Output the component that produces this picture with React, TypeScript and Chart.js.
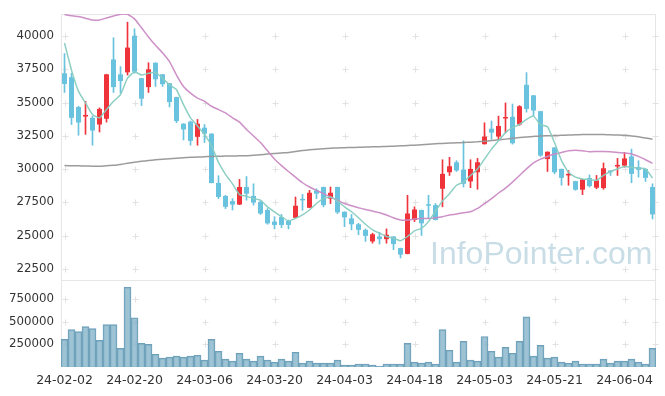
import React, { useEffect, useRef } from 'react';
import { Chart, registerables } from 'chart.js';
Chart.register(...registerables);

const dates = [
  '24-02-02','24-02-05','24-02-06','24-02-07','24-02-08','24-02-13','24-02-14','24-02-15','24-02-16','24-02-19',
  '24-02-20','24-02-21','24-02-22','24-02-23','24-02-26','24-02-27','24-02-28','24-02-29','24-03-04','24-03-05',
  '24-03-06','24-03-07','24-03-08','24-03-11','24-03-12','24-03-13','24-03-14','24-03-15','24-03-18','24-03-19',
  '24-03-20','24-03-21','24-03-22','24-03-25','24-03-26','24-03-27','24-03-28','24-03-29','24-04-01','24-04-02',
  '24-04-03','24-04-04','24-04-05','24-04-08','24-04-09','24-04-11','24-04-12','24-04-15','24-04-16','24-04-17',
  '24-04-18','24-04-19','24-04-22','24-04-23','24-04-24','24-04-25','24-04-26','24-04-29','24-04-30','24-05-02',
  '24-05-03','24-05-07','24-05-08','24-05-09','24-05-10','24-05-13','24-05-14','24-05-16','24-05-17','24-05-20',
  '24-05-21','24-05-22','24-05-23','24-05-24','24-05-27','24-05-28','24-05-29','24-05-30','24-05-31','24-06-03',
  '24-06-04','24-06-05','24-06-07','24-06-10','24-06-11'
];

const opens = [
  37200,36900,34660,33950,33850,33350,33780,38240,37120,37270,
  40020,36830,36160,37990,37120,36450,35410,33410,33560,32420,
  33110,32660,28950,27980,27590,27330,28650,27980,27530,26920,
  26050,26400,26100,26340,27750,27090,28400,28650,27780,28650,
  26790,26290,25850,25430,24560,24930,24730,24930,24060,23620,
  26170,26920,27290,27290,28520,29760,30510,29960,29070,29760,
  31870,33030,32440,33800,33930,33350,36330,35540,34350,30750,
  31620,30010,29520,29090,28450,29320,28600,28570,29890,30190,
  30260,30950,30140,30010,28650
];
const highs = [
  38680,37200,34720,35090,33980,34600,37130,39870,37700,41040,
  40540,36830,37990,37990,37120,36450,35410,33410,33610,33730,
  33350,32660,29500,28030,27780,29220,29440,28890,27590,27030,
  26420,26590,26170,27900,28100,28400,28520,28650,28650,28650,
  26790,26590,25920,25500,25180,25250,25500,24930,24060,28030,
  27160,26920,28030,27410,30700,30880,30630,32120,30700,30800,
  33480,33610,33980,34970,34890,34770,37250,35540,34350,31300,
  31620,30010,29890,29090,29220,29560,29520,30460,29890,30800,
  31250,31500,30630,30010,28890
];
const lows = [
  35760,33350,32540,32610,31790,32790,33530,35760,35710,37070,
  37200,34770,35760,36210,36210,34670,33480,32190,31790,31790,
  31990,28950,27780,27030,26920,27330,27660,27290,26590,25850,
  25500,25600,25500,26340,26900,27090,27780,27160,27410,26660,
  25670,25430,25060,24560,24430,24360,24430,23940,23320,23620,
  26050,25010,26290,26170,27160,29520,29820,28650,28600,28480,
  31870,32240,32240,32740,31870,33280,34280,33980,30950,29820,
  29640,28780,28780,28400,28080,28650,28520,28480,29520,29520,
  30140,28970,29390,29070,26250
];
const closes = [
  36400,33850,33500,34000,32900,34520,37120,36160,36620,39130,
  37320,35290,37500,36750,36380,35040,33610,32980,32120,33410,
  32660,28950,27900,27160,27330,28650,28150,27480,26660,25920,
  25800,25800,25800,27240,27650,28220,28150,27290,28220,26740,
  26370,25850,25430,24980,25100,24730,25060,24360,23570,26660,
  26960,25920,27240,26170,29640,30210,29890,28890,30010,30510,
  32440,32740,33240,33880,31940,34720,34520,34400,31010,31300,
  29760,29340,29620,28450,29220,28720,29150,30060,29760,30310,
  30800,29640,29940,29340,26590
];
const volumes = [
  304000,413000,391000,446000,424000,293000,467000,467000,206000,880000,
  543000,261000,250000,141000,98000,109000,120000,109000,120000,130000,
  76000,304000,174000,87000,65000,152000,87000,65000,120000,76000,
  54000,87000,65000,163000,43000,65000,43000,43000,43000,76000,
  22000,22000,33000,33000,22000,11000,33000,33000,33000,261000,
  54000,43000,54000,33000,413000,185000,54000,283000,76000,65000,
  337000,174000,109000,217000,152000,283000,554000,120000,239000,98000,
  109000,54000,43000,65000,33000,33000,33000,87000,43000,65000,
  65000,87000,54000,33000,206000
];
const maShort = [
  39480,37440,35840,34970,34100,33850,34470,35090,35600,36830,
  37320,37070,37200,37270,36830,36330,35960,34840,33850,33240,
  32610,31750,30500,29600,28890,28080,27960,27780,27660,27160,
  26790,26420,26100,26290,26550,26920,27410,27780,27900,27590,
  27160,26790,26340,25850,25430,25180,24930,24810,24610,24930,
  25360,25550,26050,26840,27600,28150,28780,29020,29520,30010,
  30750,31500,32120,32740,33110,33350,33730,33980,33350,33180,
  31990,30630,29760,29390,29260,29220,29150,29520,29820,30010,
  30190,30140,30060,30010,29320
];
const maMid = [
  41610,41530,41460,41340,41210,41210,41360,41510,41640,41640,
  41290,40620,39930,39300,38740,38070,37070,36210,35710,35340,
  35090,34720,34470,34225,33850,33530,32980,32490,31990,31370,
  30750,30260,29820,29390,28970,28650,28400,28150,27900,27660,
  27410,27240,27090,26960,26840,26720,26550,26340,26170,26170,
  26250,26290,26290,26340,26420,26550,26620,26720,26790,27040,
  27410,27780,28200,28570,29020,29520,30010,30460,30750,30950,
  31130,31250,31380,31420,31380,31300,31320,31320,31300,31250,
  31200,31130,30950,30700,30430
];
const maLong = [
  30260,30250,30240,30230,30220,30210,30250,30280,30350,30430,
  30510,30580,30640,30700,30740,30780,30820,30850,30880,30900,
  30930,30950,30960,30975,30985,30995,31005,31040,31080,31125,
  31170,31210,31250,31320,31390,31450,31490,31530,31570,31590,
  31610,31620,31640,31655,31670,31685,31700,31720,31745,31770,
  31795,31830,31865,31900,31930,31950,31970,31995,32020,32045,
  32090,32140,32195,32250,32310,32365,32410,32450,32490,32505,
  32520,32535,32555,32575,32590,32590,32590,32590,32575,32555,
  32535,32490,32420,32340,32240
];
const priceTicks = [22500, 25000, 27500, 30000, 32500, 35000, 37500, 40000];
const volumeTicks = [250000, 500000, 750000];
const labelEvery = 10;

const UP = 'rgb(238,52,58)';
const DOWN = 'rgb(105,194,222)';
const FONT = { family: 'DejaVu Sans', size: 11.8 };
const XFONT = { family: 'DejaVu Sans', size: 12.5 };

const crossGrid = {
  id: 'crossGrid',
  beforeDatasetsDraw(chart: any) {
    const { ctx, scales } = chart;
    const x = scales.x, y = scales.y, yv = scales.yv;
    ctx.save();
    ctx.lineWidth = 1;
    ctx.strokeStyle = '#e6e6e6';
    ctx.strokeRect(x.left + 0.5, y.top + 0.5, x.right - x.left - 1, y.bottom - y.top);
    ctx.strokeRect(x.left + 0.5, yv.top + 0.5, x.right - x.left - 1, yv.bottom - yv.top - 1);
    ctx.strokeStyle = '#e2e2e2';
    const xs: number[] = [];
    dates.forEach((_, i) => { if (i % labelEvery === 0) xs.push(Math.round(x.getPixelForValue(i)) + 0.5); });
    xs.push(x.right - 0.5);
    const ys: number[] = [];
    priceTicks.forEach(v => ys.push(Math.round(y.getPixelForValue(v)) + 0.5));
    volumeTicks.forEach(v => ys.push(Math.round(yv.getPixelForValue(v)) + 0.5));
    ctx.beginPath();
    for (const px of xs) {
      for (const py of ys) {
        ctx.moveTo(px - 3, py); ctx.lineTo(px + 3, py);
        ctx.moveTo(px, py - 3); ctx.lineTo(px, py + 3);
      }
    }
    ctx.stroke();
    ctx.restore();
  }
};

export default function App() {
  const ref = useRef<HTMLCanvasElement | null>(null);
  useEffect(() => {
    if (!ref.current) return;
    const colors = opens.map((o, i) => (closes[i] >= o ? UP : DOWN));
    const chart = new Chart(ref.current, {
      type: 'bar',
      data: {
        labels: dates,
        datasets: [
          { type: 'line', label: 'MA5', data: maShort, yAxisID: 'y', borderColor: 'rgba(135,204,192,0.95)', borderWidth: 1.5, pointRadius: 0, tension: 0.15, order: 0 } as any,
          { type: 'line', label: 'MA20', data: maMid, yAxisID: 'y', borderColor: 'rgba(202,138,196,0.95)', borderWidth: 1.5, pointRadius: 0, tension: 0.15, order: 0 } as any,
          { type: 'line', label: 'MA120', data: maLong, yAxisID: 'y', borderColor: 'rgba(150,150,150,0.95)', borderWidth: 1.5, pointRadius: 0, tension: 0.15, order: 0 } as any,
          { label: 'body', data: opens.map((o, i) => [o, closes[i]]), yAxisID: 'y', backgroundColor: colors, borderWidth: 0, barPercentage: 0.72, categoryPercentage: 1, grouped: false, minBarLength: 1.5, order: 1 } as any,
          { label: 'wick', data: lows.map((l, i) => [l, highs[i]]), yAxisID: 'y', backgroundColor: colors, borderWidth: 0, barThickness: 1, grouped: false, order: 2 } as any,
          { label: 'volume', data: volumes, yAxisID: 'yv', backgroundColor: 'rgba(130,178,200,0.78)', borderColor: 'rgba(95,150,178,0.9)', borderWidth: 1, barPercentage: 1, categoryPercentage: 1, grouped: false, order: 3 } as any,
        ],
      },
      options: {
        animation: false,
        responsive: false,
        maintainAspectRatio: false,
        layout: { padding: { left: 0, right: 9, top: 10, bottom: 0 } },
        plugins: { legend: { display: false }, tooltip: { enabled: false } },
        scales: {
          x: {
            type: 'category',
            offset: true,
            grid: { display: false, drawTicks: false },
            border: { display: false },
            ticks: {
              autoSkip: false, maxRotation: 0, minRotation: 0, padding: 6,
              color: '#333', font: XFONT,
              callback: (_v: any, i: number) => (i % labelEvery === 0 ? dates[i] : null),
            },
            afterFit: (s: any) => { s.height = 29; },
          },
          yv: {
            type: 'linear', position: 'left', stack: 'main', stackWeight: 88,
            min: 0, max: 960000,
            grid: { display: false, drawTicks: false },
            border: { display: false },
            ticks: { padding: 7, color: '#333', font: FONT, callback: (v: any) => String(v) },
            afterBuildTicks: (s: any) => { s.ticks = volumeTicks.map(v => ({ value: v })); },
            afterFit: (s: any) => { s.width = 61; },
          },
          y: {
            type: 'linear', position: 'left', stack: 'main', stackWeight: 269,
            min: 21660, max: 41650,
            grid: { display: false, drawTicks: false },
            border: { display: false },
            ticks: { padding: 7, color: '#333', font: FONT, callback: (v: any) => String(v) },
            afterBuildTicks: (s: any) => { s.ticks = priceTicks.map(v => ({ value: v })); },
            afterFit: (s: any) => { s.width = 61; },
          },
        },
      } as any,
      plugins: [crossGrid],
    });
    return () => chart.destroy();
  }, []);
  return (
    <div style={{ position: 'absolute', left: 0, top: 0, width: 665, height: 396, background: '#fff', overflow: 'hidden' }}>
      <canvas ref={ref} width={665} height={396} style={{ position: 'absolute', left: 0, top: 0 }} />
      <div style={{ position: 'absolute', left: 430, top: 235, fontFamily: 'Liberation Sans, Arial, sans-serif', fontSize: 32, color: 'rgba(165,198,215,0.6)', whiteSpace: 'nowrap', pointerEvents: 'none' }}>InfoPointer.com</div>
    </div>
  );
}
